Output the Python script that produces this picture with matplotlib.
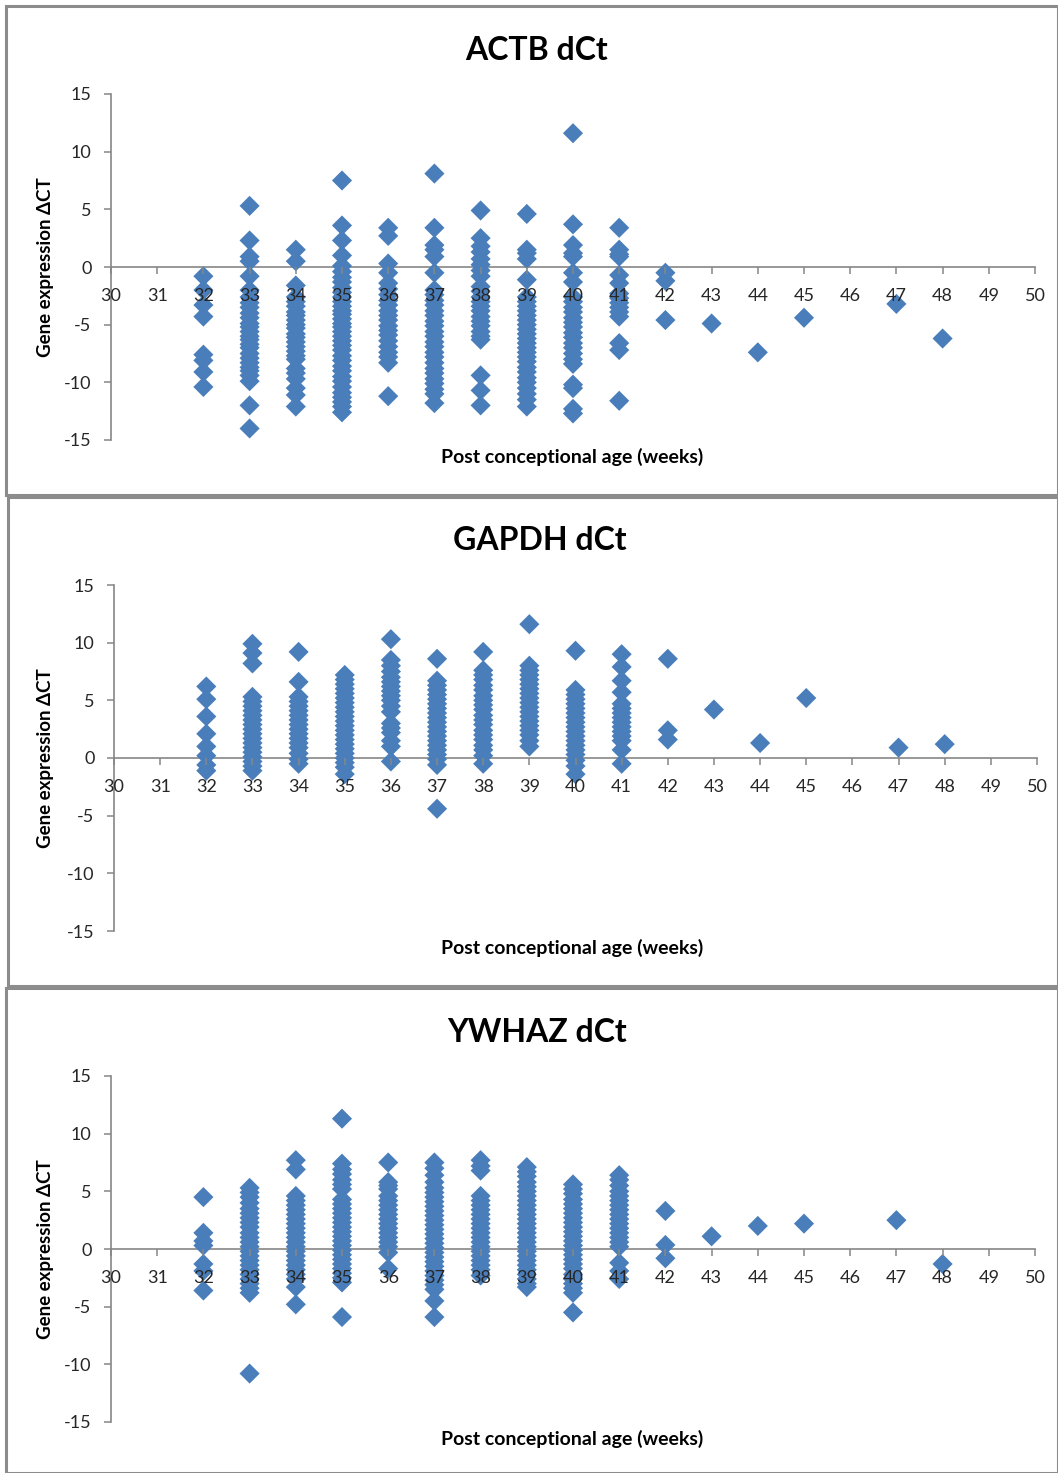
import matplotlib
matplotlib.use("Agg")
import matplotlib.pyplot as plt
from matplotlib.patches import Rectangle

plt.rcParams["font.family"] = ["Lato", "DejaVu Sans"]
plt.rcParams["axes.unicode_minus"] = False

# post conceptional age (weeks) with samples
weeks = [32, 33, 34, 35, 36, 37, 38, 39, 40, 41, 42, 43, 44, 45, 47, 48]

actb_values = [
    [-0.8, -2.0, -3.3, -4.3, -7.6, -8.1, -9.1, -10.4],
    [5.3, 2.3, 0.9, 0.5, -0.8, -2.0, -2.6, -3.1, -3.5, -4.0, -4.4, -4.9, -5.2, -5.6,
     -6.0, -6.3, -6.7, -7.0, -7.5, -7.9, -8.3, -8.7, -9.0, -9.4, -9.9, -12.0, -14.0],
    [1.5, 0.5, -1.6, -2.6, -3.0, -3.4, -3.9, -4.2, -4.6, -5.0, -5.3, -5.8, -6.1, -6.5,
     -6.9, -7.3, -7.7, -8.0, -8.8, -9.2, -9.7, -10.5, -11.1, -12.1],
    [7.5, 3.6, 2.3, 1.0, 0.1, -0.4, -0.9, -1.3, -1.8, -2.2, -2.6, -3.0, -3.4, -3.8, -4.1,
     -4.5, -4.9, -5.2, -5.6, -6.0, -6.4, -6.8, -7.2, -7.7, -8.1, -8.6, -9.0, -9.5, -9.9,
     -10.4, -10.9, -11.3, -11.7, -12.1, -12.6],
    [3.4, 2.7, 0.3, -0.5, -1.4, -1.9, -2.4, -2.9, -3.3, -3.8, -4.2, -4.6, -5.1, -5.5,
     -5.9, -6.4, -6.9, -7.4, -7.8, -8.3, -11.2],
    [8.1, 3.4, 1.9, 1.5, 0.9, -0.5, -2.0, -2.4, -2.9, -3.3, -3.8, -4.2, -4.7, -5.1, -5.6,
     -6.0, -6.5, -6.9, -7.4, -7.8, -8.3, -8.8, -9.2, -9.7, -10.1, -10.6, -11.0, -11.8],
    [4.9, 2.5, 1.8, 1.3, 0.7, 0.2, -0.3, -0.8, -1.7, -2.1, -2.6, -3.0, -3.4, -3.8, -4.3,
     -4.7, -5.1, -5.6, -6.0, -6.3, -9.4, -10.7, -12.0],
    [4.6, 1.5, 1.2, 0.7, -1.1, -2.6, -3.0, -3.4, -3.8, -4.2, -4.6, -5.0, -5.4, -5.8, -6.2,
     -6.6, -7.0, -7.4, -7.8, -8.2, -8.7, -9.1, -9.6, -10.0, -10.5, -11.0, -11.5, -12.1],
    [11.6, 3.7, 1.9, 1.2, 0.9, -0.5, -1.3, -2.6, -3.0, -3.5, -3.9, -4.4, -4.8, -5.2, -5.7,
     -6.1, -6.6, -7.0, -7.5, -8.0, -8.4, -10.2, -10.5, -12.3, -12.7],
    [3.4, 1.5, 1.1, 0.9, -0.7, -1.4, -2.3, -2.7, -3.1, -3.5, -3.9, -4.3, -6.6, -7.2, -11.6],
    [-0.5, -1.2, -4.6],
    [-4.9],
    [-7.4],
    [-4.4],
    [-3.2],
    [-6.2],
]

gapdh_values = [
    [6.2, 5.1, 3.6, 2.1, 1.0, 0.2, -0.6, -1.1],
    [9.9, 9.1, 8.2, 5.3, 4.9, 4.5, 4.1, 3.7, 3.3, 2.9, 2.5, 2.1, 1.7, 1.3, 0.9, 0.5, 0.1,
     -0.3, -0.7, -1.1],
    [9.2, 6.6, 5.3, 4.9, 4.5, 4.1, 3.7, 3.3, 2.9, 2.5, 2.1, 1.7, 1.3, 0.9, 0.4, -0.1, -0.5],
    [7.2, 6.8, 6.4, 6.0, 5.6, 5.2, 4.8, 4.4, 4.0, 3.6, 3.2, 2.8, 2.4, 2.0, 1.6, 1.2, 0.8,
     0.4, 0.0, -0.4, -0.8, -1.4],
    [10.3, 8.5, 8.0, 7.5, 7.0, 6.6, 6.2, 5.8, 5.4, 5.0, 4.5, 4.0, 3.0, 2.6, 2.2, 1.5, 1.0,
     -0.3],
    [8.6, 6.7, 6.3, 5.9, 5.5, 5.1, 4.7, 4.3, 3.9, 3.5, 3.1, 2.7, 2.3, 1.9, 1.5, 1.1, 0.7,
     0.3, -0.1, -0.6, -4.4],
    [9.2, 7.6, 7.2, 6.8, 6.3, 5.9, 5.4, 5.0, 4.6, 4.2, 3.7, 3.3, 2.9, 2.4, 2.0, 1.6, 1.1,
     0.7, 0.2, -0.5],
    [11.6, 8.0, 7.6, 7.2, 6.8, 6.4, 6.0, 5.6, 5.2, 4.8, 4.4, 4.0, 3.6, 3.2, 2.8, 2.4, 2.0,
     1.5, 1.0],
    [9.3, 5.9, 5.5, 5.1, 4.7, 4.3, 3.9, 3.5, 3.1, 2.7, 2.3, 1.9, 1.5, 1.1, 0.7, 0.3, -0.2,
     -0.7, -1.4],
    [9.0, 7.9, 6.7, 5.7, 4.7, 4.3, 3.9, 3.5, 3.1, 2.7, 2.3, 1.9, 1.5, 0.7, -0.5],
    [8.6, 2.4, 1.6],
    [4.2],
    [1.3],
    [5.2],
    [0.9],
    [1.2],
]

ywhaz_values = [
    [4.5, 1.4, 0.7, 0.3, -1.3, -1.9, -3.6],
    [5.3, 4.9, 4.5, 4.0, 3.5, 3.1, 2.7, 2.3, 1.9, 1.4, 1.0, 0.6, 0.2, -0.2, -0.6, -1.0,
     -1.4, -1.8, -2.2, -2.6, -3.0, -3.4, -3.8, -10.8],
    [7.7, 6.9, 4.6, 4.2, 3.8, 3.4, 3.0, 2.6, 2.2, 1.8, 1.4, 1.0, 0.6, 0.2, -0.2, -0.6,
     -1.0, -1.4, -1.8, -2.2, -2.6, -3.3, -4.8],
    [11.3, 7.4, 6.9, 6.5, 6.0, 5.6, 5.2, 4.3, 3.9, 3.5, 3.1, 2.7, 2.3, 1.9, 1.5, 1.1, 0.7,
     0.3, -0.1, -0.5, -0.9, -1.3, -1.7, -2.1, -2.5, -2.9, -5.9],
    [7.5, 5.8, 5.5, 5.2, 4.6, 4.2, 3.8, 3.4, 3.0, 2.6, 2.2, 1.8, 1.4, 1.0, 0.6, 0.2, -0.3,
     -1.7],
    [7.5, 7.0, 6.4, 5.8, 5.3, 4.9, 4.5, 4.1, 3.7, 3.3, 2.9, 2.5, 2.1, 1.7, 1.3, 0.9, 0.5,
     0.1, -0.3, -0.7, -1.1, -1.5, -1.9, -2.3, -2.7, -3.1, -3.5, -4.5, -5.9],
    [7.7, 7.2, 6.8, 4.6, 4.2, 3.8, 3.4, 3.0, 2.6, 2.2, 1.8, 1.4, 1.0, 0.6, 0.2, -0.2, -0.6,
     -1.0, -1.4, -1.8, -2.3],
    [7.1, 6.7, 6.3, 5.8, 5.4, 5.0, 4.6, 4.2, 3.8, 3.4, 3.0, 2.6, 2.2, 1.8, 1.4, 1.0, 0.6,
     0.2, -0.2, -0.6, -1.0, -1.4, -1.8, -2.2, -2.6, -3.0, -3.3],
    [5.6, 5.2, 4.8, 4.3, 3.9, 3.5, 3.1, 2.7, 2.3, 1.9, 1.5, 1.1, 0.7, 0.3, -0.1, -0.5,
     -0.9, -1.3, -1.7, -2.2, -2.6, -3.0, -3.4, -3.8, -5.5],
    [6.4, 6.0, 5.5, 5.0, 4.6, 4.2, 3.8, 3.4, 3.0, 2.6, 2.2, 1.8, 1.4, 1.0, 0.6, 0.2, -1.2,
     -1.9, -2.6],
    [3.3, 0.35, -0.8],
    [1.1],
    [2.0],
    [2.2],
    [2.5],
    [-1.3],
]

titles = ["ACTB dCt", "GAPDH dCt", "YWHAZ dCt"]
x_ticks = list(range(30, 51))
y_ticks = [-15, -10, -5, 0, 5, 10, 15]

W, H = 1058, 1473
fig = plt.figure(figsize=(W / 100, H / 100), dpi=100)


def fx(px):
    return px / W


def fy(py):
    return 1 - py / H


# panel frames (left, top, right, bottom) and plot area corners in pixels
frames = [(6, 6, 1058, 495), (8, 497, 1058, 986), (6, 988, 1058, 1473)]
areas = [(111, 94, 1035, 440), (114, 585, 1037, 931), (111, 1076, 1035, 1422)]
title_pos = [(537, 50), (540, 541), (537, 1032)]

blue = "#4A7EBB"
grey = "#868686"

for i, (title, vals) in enumerate(zip(titles, [actb_values, gapdh_values, ywhaz_values])):
    l, t, r, b = frames[i]
    fig.patches.append(Rectangle((fx(l), fy(b)), fx(r - l), (b - t) / H,
                                 transform=fig.transFigure, fill=False,
                                 edgecolor="#8C8C8C", lw=2.2, zorder=0))
    al, at, ar, ab = areas[i]
    ax = fig.add_axes([fx(al), fy(ab), fx(ar - al), (ab - at) / H])

    for wk, v in zip(weeks, vals):
        ax.scatter([wk] * len(v), v, marker="D", s=105, color=blue,
                   edgecolors="none", zorder=2.7)

    ax.set_xlim(30, 50)
    ax.set_ylim(-15, 15)
    ax.set_xticks(x_ticks)
    ax.set_yticks(y_ticks)
    for s in ["top", "right"]:
        ax.spines[s].set_visible(False)
    ax.spines["bottom"].set_position(("data", 0))
    for s in ["bottom", "left"]:
        ax.spines[s].set_color(grey)
        ax.spines[s].set_linewidth(1.2)
    ax.tick_params(axis="both", colors=grey, labelcolor="#262626",
                   labelsize=13, length=5, width=1.1)
    ax.tick_params(axis="x", pad=10)
    ax.tick_params(axis="y", pad=9)
    # tick labels sit above the markers, the zero line below them
    ax.xaxis.set_zorder(3)
    ax.yaxis.set_zorder(3)

    fig.text(fx(572), fy(ab + 17), "Post conceptional age (weeks)", fontsize=14,
             fontweight="bold", ha="center", va="center")
    fig.text(fx(46), fy((at + ab) / 2), "Gene expression ΔCT", fontsize=13.5,
             fontweight="bold", ha="center", va="center", rotation=90)
    tx, ty = title_pos[i]
    fig.text(fx(tx), fy(ty), title, fontsize=23, fontweight="bold",
             ha="center", va="center")

fig.savefig("out.png", dpi=100, facecolor="white")
